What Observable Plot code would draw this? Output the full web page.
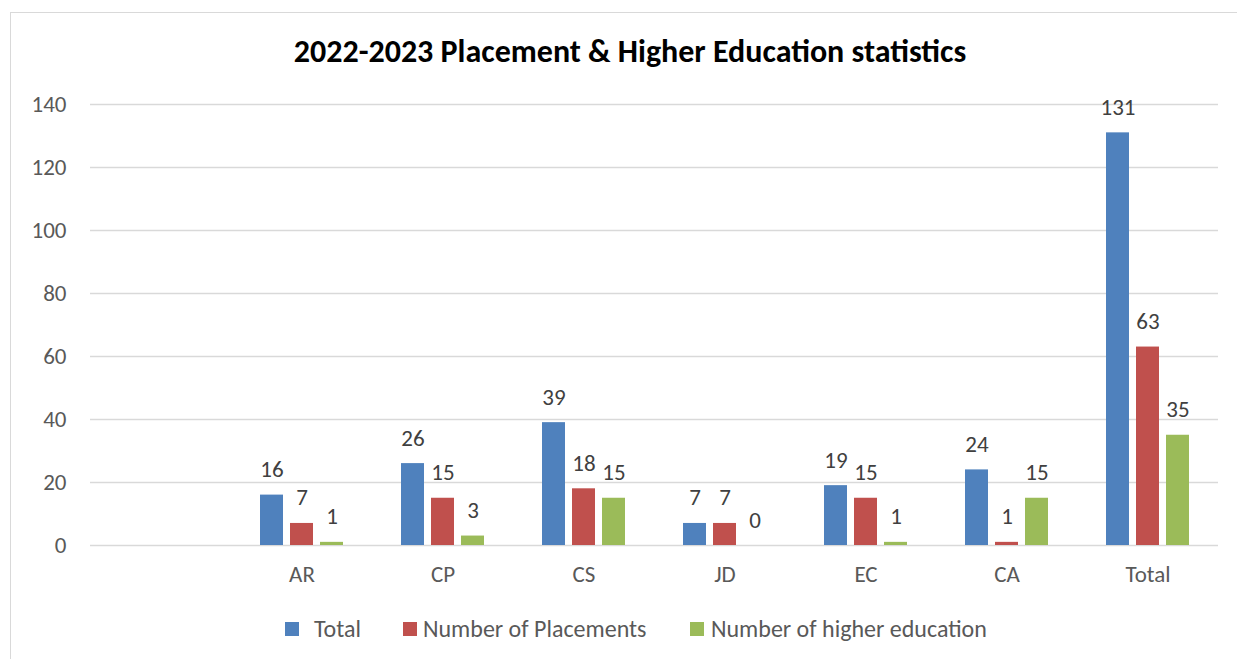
<!DOCTYPE html>
<html>
<head>
<meta charset="utf-8">
<script src="https://cdn.jsdelivr.net/npm/d3@7"></script>
<script src="https://cdn.jsdelivr.net/npm/@observablehq/plot@0.6"></script>
<style>
  html, body { margin: 0; padding: 0; background: #fff; }
  body { width: 1237px; height: 659px; position: relative; overflow: hidden; font-family: Carlito, Calibri, "Open Sans", sans-serif; }
  #frame { position: absolute; left: 10px; top: 12px; width: 1260px; height: 700px; border: 1.5px solid #d9d9d9; box-sizing: border-box; }
  #title { position: absolute; left: 0; width: 1260px; top: 30px; line-height: 44px; text-align: center; font-weight: bold; font-size: 32px; color: #000; }
  #chart { position: absolute; left: 0; top: 80px; }
  .leg { position: absolute; top: 614px; line-height: 30px; font-size: 24px; color: #595959; display: flex; align-items: center; white-space: nowrap; }
  .leg span.sw { display: inline-block; width: 14px; height: 14px; }
</style>
</head>
<body>
<div id="frame"></div>
<div id="title">2022-2023 Placement &amp; Higher Education statistics</div>
<div id="chart"></div>
<div id="legend"></div>
<script>
const categories = ["", "AR", "CP", "CS", "JD", "EC", "CA", "Total"];
const seriesNames = ["Total", "Number of Placements", "Number of higher education"];
const totalValues = [null, 16, 26, 39, 7, 19, 24, 131];
const placementValues = [null, 7, 15, 18, 7, 15, 1, 63];
const higherEduValues = [null, 1, 3, 15, 0, 1, 15, 35];
const yTicks = [0, 20, 40, 60, 80, 100, 120, 140];
const colors = ["#4F81BD", "#C0504D", "#9BBB59"];

const seriesValues = [totalValues, placementValues, higherEduValues];
// every category (including the empty first slot) gets rows so its facet exists
const data = [];
categories.forEach((c, i) => {
  seriesValues.forEach((vals, s) => {
    data.push({category: c, series: seriesNames[s], value: vals[i]});
  });
});
const labelData = data.filter(d => d.value != null);

const font = 'Carlito, Calibri, "Open Sans", sans-serif';
const chart = Plot.plot({
  width: 1237,
  height: 515,
  marginLeft: 87,
  marginRight: 17,
  marginTop: 24,
  marginBottom: 50,
  style: {fontFamily: font, fontSize: "23px", color: "#595959", background: "transparent"},
  fx: {domain: categories, paddingInner: 0, paddingOuter: 0, label: null, axis: null},
  x: {domain: seriesNames, paddingInner: 0.226, paddingOuter: 0.897, axis: null, label: null},
  y: {domain: [0, 140], ticks: yTicks, axis: null, label: null},
  color: {domain: seriesNames, range: colors},
  marks: [
    Plot.gridY(yTicks, {stroke: "#d9d9d9", strokeOpacity: 1, strokeWidth: 1.5}),
    Plot.barY(data, {fx: "category", x: "series", y: "value", fill: "series"}),
    Plot.text(labelData, {fx: "category", x: "series", y: "value", text: d => String(d.value), dy: -18, lineAnchor: "bottom", fill: "#404040", fontSize: 23}),
    Plot.axisY(yTicks, {tickSize: 0, tickPadding: 24, fontSize: 23, fill: "#595959", label: null, facetAnchor: "left"}),
    Plot.axisFx({tickSize: 0, tickPadding: 20, fontSize: 23, fill: "#595959", label: null, anchor: "bottom"})
  ]
});
document.getElementById("chart").appendChild(chart);

const legendPos = [285, 403, 690];
const legendTextGap = [15, 6, 7];
const legend = document.getElementById("legend");
seriesNames.forEach((name, i) => {
  const item = document.createElement("div");
  item.className = "leg";
  item.style.left = legendPos[i] + "px";
  const sw = document.createElement("span");
  sw.className = "sw";
  sw.style.background = colors[i];
  sw.style.marginRight = legendTextGap[i] + "px";
  const t = document.createElement("span");
  t.textContent = name;
  item.appendChild(sw);
  item.appendChild(t);
  legend.appendChild(item);
});
</script>
</body>
</html>
